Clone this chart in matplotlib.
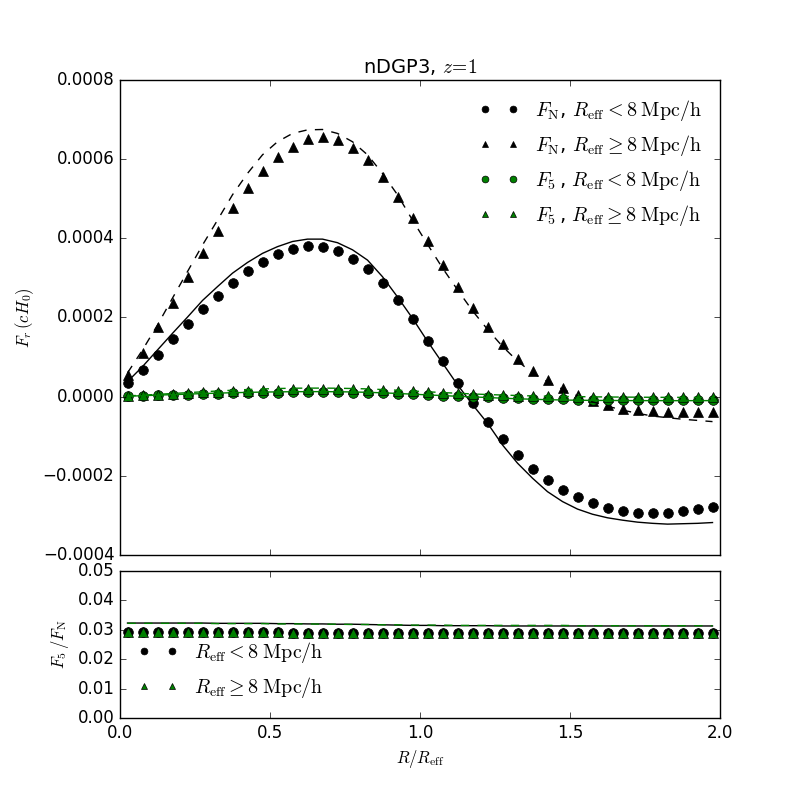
import matplotlib
matplotlib.use('Agg')
import matplotlib.pyplot as plt
import numpy as np

plt.style.use('classic')
plt.rcParams['mathtext.fontset'] = 'cm'
plt.rcParams['figure.facecolor'] = 'white'
plt.rcParams['savefig.facecolor'] = 'white'

# bin centres in R/R_eff
r = np.arange(0.025, 2.0, 0.05)

# measured F_N (points) and model (lines), top panel
fn_small = [0.000035, 0.000067, 0.000105, 0.000146, 0.000183, 0.000221, 0.000254, 0.000286,
            0.000318, 0.000340, 0.000360, 0.000374, 0.000381, 0.000377, 0.000367, 0.000349,
            0.000322, 0.000286, 0.000244, 0.000196, 0.000140, 0.000090, 0.000035, -0.000015,
            -0.000063, -0.000108, -0.000148, -0.000183, -0.000210, -0.000236, -0.000254, -0.000269,
            -0.000282, -0.000288, -0.000293, -0.000293, -0.000293, -0.000290, -0.000284, -0.000279]
fn_large = [0.000055, 0.000111, 0.000175, 0.000236, 0.000302, 0.000364, 0.000419, 0.000476,
            0.000526, 0.000571, 0.000605, 0.000632, 0.000650, 0.000655, 0.000648, 0.000627,
            0.000598, 0.000554, 0.000505, 0.000451, 0.000392, 0.000333, 0.000278, 0.000223,
            0.000177, 0.000133, 0.000095, 0.000065, 0.000042, 0.000021, 0.000004, -0.000010,
            -0.000021, -0.000030, -0.000034, -0.000037, -0.000038, -0.000039, -0.000039, -0.000038]
f5_small = [0.0000010, 0.0000019, 0.0000030, 0.0000042, 0.0000053, 0.0000064, 0.0000074, 0.0000083,
            0.0000092, 0.0000099, 0.0000104, 0.0000108, 0.0000110, 0.0000109, 0.0000106, 0.0000101,
            0.0000093, 0.0000083, 0.0000071, 0.0000057, 0.0000041, 0.0000026, 0.0000010, -0.0000004,
            -0.0000018, -0.0000031, -0.0000043, -0.0000053, -0.0000061, -0.0000068, -0.0000074, -0.0000078,
            -0.0000082, -0.0000084, -0.0000085, -0.0000085, -0.0000085, -0.0000084, -0.0000082, -0.0000081]
f5_large = [0.0000016, 0.0000032, 0.0000051, 0.0000068, 0.0000088, 0.0000106, 0.0000122, 0.0000138,
            0.0000153, 0.0000166, 0.0000175, 0.0000183, 0.0000189, 0.0000190, 0.0000188, 0.0000182,
            0.0000173, 0.0000161, 0.0000146, 0.0000131, 0.0000114, 0.0000097, 0.0000081, 0.0000065,
            0.0000051, 0.0000039, 0.0000028, 0.0000019, 0.0000012, 0.0000006, 0.0000001, -0.0000003,
            -0.0000006, -0.0000009, -0.0000010, -0.0000011, -0.0000011, -0.0000011, -0.0000011, -0.0000011]

fn_small_th = [0.000038, 0.000076, 0.000118, 0.000160, 0.000201, 0.000243, 0.000278, 0.000312,
               0.000339, 0.000362, 0.000379, 0.000392, 0.000398, 0.000398, 0.000389, 0.000371,
               0.000345, 0.000303, 0.000252, 0.000198, 0.000140, 0.000085, 0.000030, -0.000020,
               -0.000067, -0.000122, -0.000168, -0.000206, -0.000240, -0.000265, -0.000284, -0.000297,
               -0.000306, -0.000312, -0.000317, -0.000320, -0.000322, -0.000321, -0.000320, -0.000318]
fn_large_th = [0.000060, 0.000118, 0.000181, 0.000249, 0.000316, 0.000383, 0.000446, 0.000510,
               0.000564, 0.000611, 0.000644, 0.000665, 0.000674, 0.000675, 0.000665, 0.000644,
               0.000611, 0.000564, 0.000510, 0.000446, 0.000385, 0.000325, 0.000270, 0.000217,
               0.000170, 0.000127, 0.000090, 0.000060, 0.000038, 0.000019, 0.000002, -0.000013,
               -0.000024, -0.000034, -0.000042, -0.000049, -0.000053, -0.000057, -0.000060, -0.000063]
f5_small_th = [0.0000012, 0.0000024, 0.0000038, 0.0000051, 0.0000064, 0.0000078, 0.0000089, 0.0000100,
               0.0000108, 0.0000116, 0.0000121, 0.0000125, 0.0000127, 0.0000127, 0.0000124, 0.0000119,
               0.0000110, 0.0000097, 0.0000081, 0.0000063, 0.0000045, 0.0000027, 0.0000010, -0.0000006,
               -0.0000021, -0.0000039, -0.0000053, -0.0000065, -0.0000076, -0.0000084, -0.0000090, -0.0000094,
               -0.0000096, -0.0000098, -0.0000100, -0.0000100, -0.0000101, -0.0000101, -0.0000100, -0.0000100]
f5_large_th = [0.0000019, 0.0000038, 0.0000058, 0.0000080, 0.0000101, 0.0000123, 0.0000143, 0.0000163,
               0.0000180, 0.0000196, 0.0000206, 0.0000213, 0.0000216, 0.0000216, 0.0000213, 0.0000206,
               0.0000196, 0.0000180, 0.0000163, 0.0000143, 0.0000123, 0.0000104, 0.0000086, 0.0000069,
               0.0000054, 0.0000041, 0.0000029, 0.0000019, 0.0000012, 0.0000006, 0.0000001, -0.0000004,
               -0.0000008, -0.0000011, -0.0000013, -0.0000016, -0.0000017, -0.0000018, -0.0000019, -0.0000020]

# ratio F5/FN, bottom panel
ratio_small = [0.0291, 0.0291, 0.0291, 0.0291, 0.0291, 0.0291, 0.0291, 0.0291,
               0.0291, 0.0291, 0.0291, 0.0290, 0.0290, 0.0290, 0.0290, 0.0290,
               0.0290, 0.0290, 0.0290, 0.0290, 0.0290, 0.0290, 0.0290, 0.0290,
               0.0290, 0.0290, 0.0290, 0.0290, 0.0290, 0.0290, 0.0290, 0.0290,
               0.0290, 0.0290, 0.0290, 0.0290, 0.0290, 0.0290, 0.0290, 0.0290]
ratio_large = [0.0291, 0.0291, 0.0291, 0.0291, 0.0291, 0.0291, 0.0291, 0.0291,
               0.0291, 0.0291, 0.0291, 0.0290, 0.0290, 0.0290, 0.0290, 0.0290,
               0.0290, 0.0290, 0.0290, 0.0290, 0.0290, 0.0290, 0.0290, 0.0290,
               0.0290, 0.0290, 0.0290, 0.0290, 0.0290, 0.0290, 0.0290, 0.0290,
               0.0290, 0.0290, 0.0290, 0.0290, 0.0290, 0.0290, 0.0290, 0.0290]
ratio_small_th = [0.0323, 0.0323, 0.0323, 0.0323, 0.0323, 0.0323, 0.0322, 0.0322,
                  0.0322, 0.0322, 0.0321, 0.0321, 0.0320, 0.0320, 0.0319, 0.0319,
                  0.0318, 0.0317, 0.0316, 0.0315, 0.0315, 0.0314, 0.0314, 0.0314,
                  0.0314, 0.0313, 0.0313, 0.0313, 0.0313, 0.0313, 0.0313, 0.0313,
                  0.0313, 0.0313, 0.0313, 0.0313, 0.0313, 0.0313, 0.0313, 0.0313]
ratio_large_th = [0.0322, 0.0322, 0.0322, 0.0322, 0.0322, 0.0322, 0.0321, 0.0321,
                  0.0321, 0.0321, 0.0320, 0.0320, 0.0320, 0.0319, 0.0319, 0.0318,
                  0.0318, 0.0317, 0.0317, 0.0316, 0.0316, 0.0316, 0.0315, 0.0315,
                  0.0315, 0.0315, 0.0315, 0.0315, 0.0315, 0.0315, 0.0314, 0.0314,
                  0.0314, 0.0314, 0.0314, 0.0314, 0.0314, 0.0314, 0.0314, 0.0314]

lab_small = r'$R_{\rm eff} < 8\;{\rm Mpc/h}$'
lab_large = r'$R_{\rm eff} \geq 8\;{\rm Mpc/h}$'

fig = plt.figure(figsize=(8, 8), dpi=100)
ax1 = fig.add_axes([0.15, 0.30625, 0.75, 0.59375])
ax2 = fig.add_axes([0.15, 0.1025, 0.75, 0.18375])

ms = 7
ax1.plot(r, fn_small, 'ko', ms=ms, mec='k', mew=0.5, label=r'$F_{\rm N}$, ' + lab_small)
ax1.plot(r, fn_large, 'k^', ms=ms, mec='k', mew=0.5, label=r'$F_{\rm N}$, ' + lab_large)
ax1.plot(r, f5_small, 'go', ms=ms, mec='k', mew=0.5, label=r'$F_5\,$, ' + lab_small)
ax1.plot(r, f5_large, 'g^', ms=ms, mec='k', mew=0.5, label=r'$F_5\,$, ' + lab_large)
ax1.plot(r, fn_small_th, 'k-')
ax1.plot(r, fn_large_th, 'k--')
ax1.plot(r, f5_small_th, 'g-')
ax1.plot(r, f5_large_th, 'g--')

ax1.set_xlim(0, 2)
ax1.set_ylim(-0.0004, 0.0008)
ax1.set_xticklabels([])
ax1.set_ylabel(r'$F_r\,(cH_0)$')
ax1.set_title(r'nDGP3, $z\!=\!1$', fontsize=14)
ax1.legend(loc='upper right', frameon=False, numpoints=2, markerscale=0.7)

ax2.plot(r, ratio_small, 'ko', ms=ms, mec='k', mew=0.5, label=lab_small)
ax2.plot(r, ratio_large, 'g^', ms=ms, mec='k', mew=0.5, label=lab_large)
ax2.plot(r, ratio_small_th, 'k-')
ax2.plot(r, ratio_large_th, 'g--')

ax2.set_xlim(0, 2)
ax2.set_ylim(0, 0.05)
ax2.set_yticks([0.0, 0.01, 0.02, 0.03, 0.04, 0.05])
ax2.set_xlabel(r'$R/R_{\rm eff}$')
ax2.set_ylabel(r'$F_5\,/F_{\rm N}$')
ax2.legend(loc='lower left', frameon=False, numpoints=2, markerscale=0.7)

fig.savefig('out.png', dpi=100)
